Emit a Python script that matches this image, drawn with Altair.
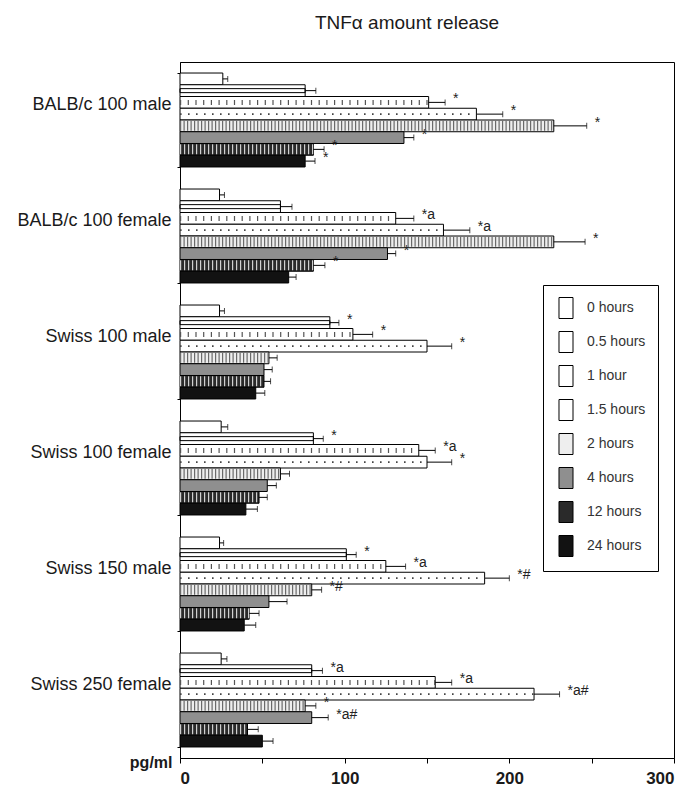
import altair as alt
import pandas as pd

groups = ["BALB/c 100 male", "BALB/c 100 female", "Swiss 100 male",
          "Swiss 100 female", "Swiss 150 male", "Swiss 250 female"]
times = ["0 hours", "0.5 hours", "1 hour", "1.5 hours",
         "2 hours", "4 hours", "12 hours", "24 hours"]

# mean TNF-alpha (pg/ml) per time point, one list per group
balb_male = [26, 76, 151, 180, 227, 136, 81, 76]
balb_female = [24, 61, 131, 160, 227, 126, 81, 66]
swiss100_male = [24, 91, 105, 150, 54, 51, 51, 46]
swiss100_female = [25, 81, 145, 150, 61, 53, 48, 40]
swiss150_male = [24, 101, 125, 185, 80, 54, 42, 39]
swiss250_female = [25, 80, 155, 215, 76, 80, 41, 50]

# error (one-sided) per time point
balb_male_err = [3, 6.5, 10, 16, 20, 6, 6.5, 6]
balb_female_err = [3, 7, 11, 16, 19, 5, 7, 4.5]
swiss100_male_err = [3, 5.5, 12, 15, 5, 5, 4, 5.5]
swiss100_female_err = [4, 6, 10, 15, 5.5, 5.5, 5, 7]
swiss150_male_err = [2.5, 6, 12, 15, 6, 11, 6, 7]
swiss250_female_err = [3.5, 6.5, 10, 15.5, 6.5, 10, 6.5, 6.5]

# significance marks
balb_male_lab = ["", "", "*", "*", "*", "*", "*", "*"]
balb_female_lab = ["", "", "*a", "*a", "*", "*", "*", ""]
swiss100_male_lab = ["", "*", "*", "*", "", "", "", ""]
swiss100_female_lab = ["", "*", "*a", "*", "", "", "", ""]
swiss150_male_lab = ["", "*", "*a", "*#", "*#", "", "", ""]
swiss250_female_lab = ["", "*a", "*a", "*a#", "*", "*a#", "", ""]

values = [balb_male, balb_female, swiss100_male, swiss100_female, swiss150_male, swiss250_female]
errors = [balb_male_err, balb_female_err, swiss100_male_err, swiss100_female_err,
          swiss150_male_err, swiss250_female_err]
labels = [balb_male_lab, balb_female_lab, swiss100_male_lab, swiss100_female_lab,
          swiss150_male_lab, swiss250_female_lab]

x_ticks = [0, 50, 100, 150, 200, 250, 300]

rows = []
for g, vals, errs, labs in zip(groups, values, errors, labels):
    for t, v, e, l in zip(times, vals, errs, labs):
        rows.append(dict(group=g, time=t, value=v, err=e, upper=v + e, label=l, base=0))
df = pd.DataFrame(rows)

FONT = "Liberation Sans"
fills = ["#ffffff", "#ffffff", "#ffffff", "#ffffff", "#eeeeee", "#8f8f8f", "#2a2a2a", "#121212"]

y_enc = alt.Y(
    "group:N", sort=groups, title=None,
    scale=alt.Scale(domain=groups, paddingInner=0.19, paddingOuter=0.095),
    axis=alt.Axis(tickBand="extent", tickSize=3, labelOffset=-16, labelPadding=6,
                  labelFontSize=18, labelLimit=300, labelColor="#1a1a1a"),
)
y_off = alt.YOffset("time:N", sort=times,
                    scale=alt.Scale(domain=times, paddingInner=0, paddingOuter=0))

base = alt.Chart(df).encode(y=y_enc, yOffset=y_off)

x_enc = alt.X(
    "value:Q", title="pg/ml",
    scale=alt.Scale(domain=[0, 300], nice=False),
    axis=alt.Axis(values=x_ticks, grid=False, tickSize=5, labelPadding=7,
                  labelExpr="datum.value % 100 === 0 ? datum.label : ''",
                  labelFontSize=17, labelFontWeight="bold", labelColor="#1a1a1a",
                  titleX=-8, titleY=4, titleAlign="right", titleBaseline="middle",
                  titleFontSize=16, titleFontWeight="bold", titleColor="#1a1a1a"),
)

bars = base.mark_bar(stroke="black", strokeWidth=1).encode(
    x=x_enc,
    fill=alt.Fill(
        "time:N", sort=times,
        scale=alt.Scale(domain=times, range=fills),
        legend=alt.Legend(
            title=None, orient="none", legendX=363, legendY=223,
            strokeColor="black", fillColor="white", padding=12,
            symbolType="M-0.667,-1H0.667V1H-0.667Z", symbolSize=441,
            symbolStrokeColor="black", symbolStrokeWidth=1,
            rowPadding=8, labelOffset=10, labelFontSize=14, labelFont=FONT,
            labelColor="#333333",
        ),
    ),
)


def stripes(t, color, width, dash):
    return base.transform_filter(alt.datum.time == t).mark_rule(
        color=color, strokeWidth=width, strokeDash=dash
    ).encode(x=alt.X("base:Q", title="pg/ml"), x2="value:Q")


inner = base.transform_filter(alt.datum.time == "0.5 hours").mark_bar(
    height=4, fillOpacity=0, stroke="black", strokeWidth=1
).encode(x=alt.X("value:Q", title="pg/ml"))

p1 = stripes("1 hour", "#555555", 5, [1.2, 6.5])
p15 = stripes("1.5 hours", "#444444", 1.6, [1.6, 6.4])
p2 = stripes("2 hours", "#6a6a6a", 10, [1.2, 2.3])
p12 = stripes("12 hours", "#d0d0d0", 10, [1.2, 2.8])

err_rule = base.mark_rule(color="black", strokeWidth=1).encode(
    x=alt.X("value:Q", title="pg/ml"), x2="upper:Q")
err_cap = base.mark_tick(color="black", thickness=1, size=6, orient="vertical").encode(
    x=alt.X("upper:Q", title="pg/ml"))
marks = base.transform_filter(alt.datum.label != "").mark_text(
    align="left", baseline="middle", dx=8, dy=-3, fontSize=14, font=FONT, color="#222222"
).encode(x=alt.X("upper:Q", title="pg/ml"), text="label:N")

chart = alt.layer(bars, inner, p1, p15, p2, p12, err_rule, err_cap, marks).properties(
    width=494, height=696,
    autosize=alt.AutoSizeParams(type="none"),
    padding={"left": 172, "top": 54, "right": 1, "bottom": 30},
    title=alt.TitleParams("TNFα amount release", fontSize=19, font=FONT,
                          fontWeight="normal", anchor="middle", dx=-20, offset=20,
                          color="#1a1a1a"),
).configure_view(stroke="black", strokeWidth=1).configure_axis(
    labelFont=FONT, titleFont=FONT, domainColor="black", tickColor="black"
)

chart.save("out.html", embed_options={"renderer": "svg", "actions": False})
